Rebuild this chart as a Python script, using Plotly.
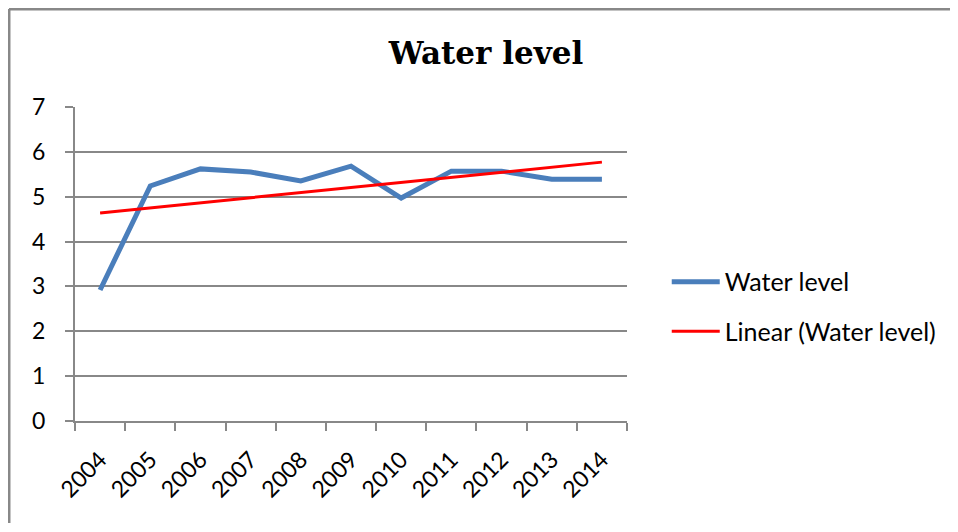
import numpy as np
import plotly.graph_objects as go

years = ["2004", "2005", "2006", "2007", "2008", "2009", "2010", "2011", "2012", "2013", "2014"]
water_level = [2.92, 5.24, 5.62, 5.55, 5.35, 5.68, 4.97, 5.57, 5.57, 5.39, 5.39]
y_ticks = [0, 1, 2, 3, 4, 5, 6, 7]

idx = np.arange(len(years))
slope, intercept = np.polyfit(idx, water_level, 1)
trend = list(slope * idx + intercept)

fig = go.Figure()
fig.add_trace(go.Scatter(
    x=years, y=water_level, mode="lines", name="Water level",
    line=dict(color="#4A7EBB", width=5), legendgroup="a"))
fig.add_trace(go.Scatter(
    x=years, y=trend, mode="lines", name="Linear (Water level)",
    line=dict(color="#FF0000", width=3), legendgroup="b"))

grid = "#888888"
# page has an 8px body margin, so the figure is drawn at (8, 8)
W, H = 950, 516
L, T, PW, PH = 67, 99, 552, 314
fig.update_layout(
    width=W, height=H,
    margin=dict(l=L, r=W - L - PW, t=T, b=H - T - PH, autoexpand=False),
    paper_bgcolor="white", plot_bgcolor="white",
    font=dict(family="Lato, Liberation Sans, sans-serif", size=23, color="black"),
    title=dict(text="<b>Water level</b>", x=478 / W, xref="container", xanchor="center",
               y=1 - 45 / H, yref="container", yanchor="middle",
               font=dict(family="DejaVu Serif, serif", size=31, color="black")),
    showlegend=True,
    legend=dict(x=1.072, xanchor="left", y=0.365, yanchor="middle",
                tracegroupgap=14, itemwidth=48, font=dict(size=25),
                bgcolor="rgba(0,0,0,0)"),
    hovermode=False,
    shapes=[
        dict(type="line", xref="paper", yref="paper",
             x0=-0.1196, x1=(W - L - 1) / PW, y0=1.312, y1=1.312,
             line=dict(color="#888888", width=3), layer="below"),
        dict(type="line", xref="paper", yref="paper",
             x0=-0.1196, x1=-0.1196, y0=-(H - T - PH - 1) / PH, y1=1.312,
             line=dict(color="#888888", width=3), layer="below"),
    ],
)
fig.update_xaxes(
    type="category", range=[-0.5, 10.5], tickson="boundaries",
    ticks="outside", ticklen=8, tickwidth=2, tickcolor=grid,
    showline=True, linecolor=grid, linewidth=2, automargin=False,
    showgrid=False, tickangle=-45, tickfont=dict(size=23), zeroline=False,
    ticklabelstandoff=14)
fig.update_yaxes(
    range=[0, 7], tickvals=y_ticks, ticks="outside", ticklen=8, tickwidth=2,
    tickcolor=grid, showline=True, linecolor=grid, linewidth=2, automargin=False,
    showgrid=True, gridcolor=grid, gridwidth=2, zeroline=False,
    tickfont=dict(size=23), ticklabelstandoff=15)

fig.write_html("out.html")
